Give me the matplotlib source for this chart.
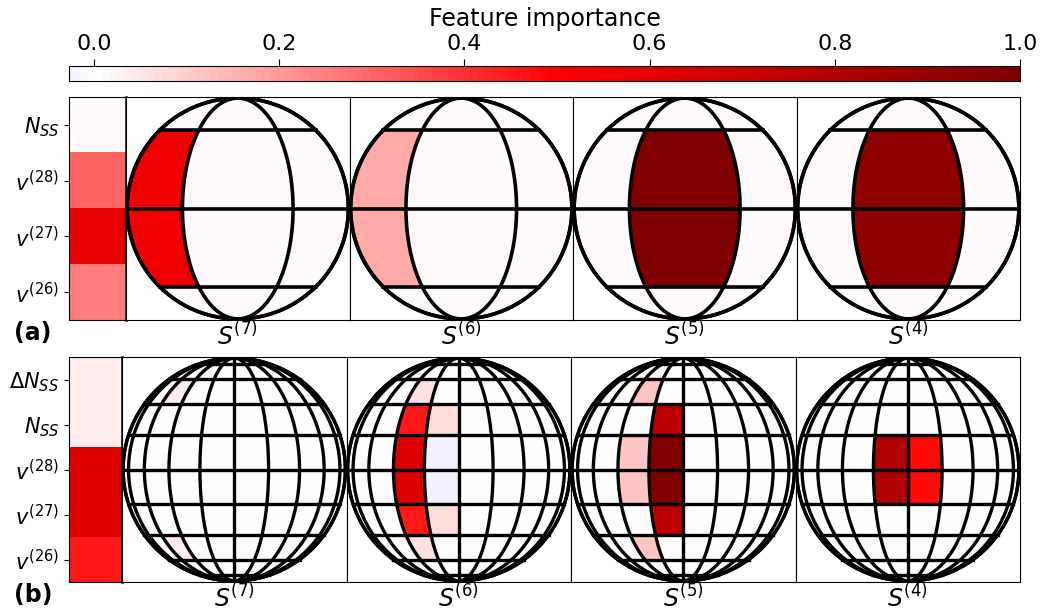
import matplotlib
matplotlib.use('Agg')
import matplotlib.pyplot as plt
import numpy as np
from matplotlib.colors import ListedColormap, Normalize
from matplotlib.cm import ScalarMappable

# colour scale: upper part of seismic, a little below zero
vmin, vmax = -0.027, 1.0
seis = plt.get_cmap('seismic')
lo = 0.5 + 0.5 * vmin
cmap = ListedColormap(seis(np.linspace(lo, 1, 256)))
norm = Normalize(vmin, vmax)

sphere_names = ['$S^{(7)}$', '$S^{(6)}$', '$S^{(5)}$', '$S^{(4)}$']

# ---- panel (a): 4 lat bands x 3 visible lon bands
labels_a = ['$N_{SS}$', '$v^{(28)}$', '$v^{(27)}$', '$v^{(26)}$']
strip_a = [0.015, 0.30, 0.59, 0.25]
lat_a = [90, 45, 0, -45, -90]
lon_a = [-90, -30, 30, 90]
s7_a = [[.01, .01, .01],
        [.56, .01, .01],
        [.56, .01, .01],
        [.01, .01, .01]]
s6_a = [[.01, .01, .01],
        [.17, .01, .01],
        [.17, .01, .01],
        [.01, .01, .01]]
s5_a = [[.01, .01, .01],
        [.01, 1.0, .01],
        [.01, 1.0, .01],
        [.01, .01, .01]]
s4_a = [[.01, .01, .01],
        [.01, .94, .01],
        [.01, .94, .01],
        [.01, .01, .01]]

# ---- panel (b): 10 lat bands x 10 visible lon bands (18 deg)
labels_b = ['$\\Delta N_{SS}$', '$N_{SS}$', '$v^{(28)}$', '$v^{(27)}$', '$v^{(26)}$']
strip_b = [0.04, 0.04, 0.62, 0.62, 0.45]
lat_b = [90, 72, 54, 36, 18, 0, -18, -36, -54, -72, -90]
lon_b = [-90, -72, -54, -36, -18, 0, 18, 36, 54, 72, 90]
z = 0.003
s7_b = [[z, z, z, z, z, z, z, z, z, z],
        [z, z, z, z, z, z, z, z, z, z],
        [z, z, .04, z, z, z, z, z, z, z],
        [z, z, z, z, z, z, z, z, z, z],
        [z, z, z, z, z, z, z, z, z, z],
        [z, z, z, z, z, z, z, z, z, z],
        [z, z, z, z, z, z, z, z, z, z],
        [z, z, .04, z, z, z, z, z, z, z],
        [z, z, z, z, z, z, z, z, z, z],
        [z, z, z, z, z, z, z, z, z, z]]
s6_b = [[z, z, z, z, z, z, z, z, z, z],
        [z, z, z, z, z, z, z, z, z, z],
        [z, z, z, .065, z, z, z, z, z, z],
        [z, z, z, .45, .07, z, z, z, z, z],
        [z, z, z, .63, -.03, z, z, z, z, z],
        [z, z, z, .63, -.03, z, z, z, z, z],
        [z, z, z, .45, .07, z, z, z, z, z],
        [z, z, z, .065, z, z, z, z, z, z],
        [z, z, z, z, z, z, z, z, z, z],
        [z, z, z, z, z, z, z, z, z, z]]
s5_b = [[z, z, z, z, z, z, z, z, z, z],
        [z, z, z, z, z, z, z, z, z, z],
        [z, z, z, .115, z, z, z, z, z, z],
        [z, z, z, z, .77, z, z, z, z, z],
        [z, z, z, .115, 1.0, z, z, z, z, z],
        [z, z, z, .115, 1.0, z, z, z, z, z],
        [z, z, z, z, .77, z, z, z, z, z],
        [z, z, z, .115, z, z, z, z, z, z],
        [z, z, z, z, z, z, z, z, z, z],
        [z, z, z, z, z, z, z, z, z, z]]
s4_b = [[z, z, z, z, z, z, z, z, z, z],
        [z, z, z, z, z, z, z, z, z, z],
        [z, z, z, z, z, z, z, z, z, z],
        [z, z, z, z, z, z, z, z, z, z],
        [z, z, z, z, .81, .48, z, z, z, z],
        [z, z, z, z, .81, .48, z, z, z, z],
        [z, z, z, z, z, z, z, z, z, z],
        [z, z, z, z, z, z, z, z, z, z],
        [z, z, z, z, z, z, z, z, z, z],
        [z, z, z, z, z, z, z, z, z, z]]


def proj(lat, lon):
    lat = np.radians(lat)
    lon = np.radians(lon)
    return np.cos(lat) * np.sin(lon), np.sin(lat)


def draw_sphere(ax, vals, lats, lons, lw):
    n = 40
    for i in range(len(lats) - 1):
        for j in range(len(lons) - 1):
            la1, la2 = lats[i], lats[i + 1]
            lo1, lo2 = lons[j], lons[j + 1]
            la = np.concatenate([np.full(n, la1), np.linspace(la1, la2, n),
                                 np.full(n, la2), np.linspace(la2, la1, n)])
            lo_ = np.concatenate([np.linspace(lo1, lo2, n), np.full(n, lo2),
                                  np.linspace(lo2, lo1, n), np.full(n, lo1)])
            x, y = proj(la, lo_)
            ax.fill(x, y, color=cmap(norm(vals[i][j])), lw=0)
    t = np.linspace(-90, 90, 200)
    for lo_ in lons:
        x, y = proj(t, np.full_like(t, lo_))
        ax.plot(x, y, color='k', lw=lw)
    for la in lats[1:-1]:
        x, y = proj(np.full_like(t, la), t)
        ax.plot(x, y, color='k', lw=lw)
    a = np.linspace(0, 2 * np.pi, 400)
    ax.plot(np.cos(a), np.sin(a), color='k', lw=lw)
    ax.set_xlim(-1.01, 1.01)
    ax.set_ylim(-1.01, 1.01)
    ax.set_xticks([])
    ax.set_yticks([])


W, H = 1042, 615
fig = plt.figure(figsize=(W / 100, H / 100), dpi=100)


def box(x0, y0, x1, y1):
    return [x0 / W, 1 - y1 / H, (x1 - x0) / W, (y1 - y0) / H]


# colorbar
cax = fig.add_axes(box(69, 66, 1020, 81))
cb = fig.colorbar(ScalarMappable(norm=norm, cmap=cmap), cax=cax,
                  orientation='horizontal', ticklocation='top')
cb.set_ticks([0, 0.2, 0.4, 0.6, 0.8, 1.0])
cb.ax.tick_params(labelsize=16, length=5)
cb.set_label('Feature importance', fontsize=17, labelpad=6)


def draw_panel(y0, y1, xs, strip, labels, spheres, lats, lons, tag, lw):
    sax = fig.add_axes(box(69, y0, xs[0], y1))
    sax.imshow(np.array(strip)[:, None], cmap=cmap, norm=norm, aspect='auto')
    sax.set_xticks([])
    sax.set_yticks(range(len(labels)))
    sax.set_yticklabels(labels, fontsize=15)
    sax.spines['right'].set_linewidth(1.8)
    for k in range(4):
        ax = fig.add_axes(box(xs[k], y0, xs[k + 1], y1))
        draw_sphere(ax, spheres[k], lats, lons, lw)
        ax.set_xlabel(sphere_names[k], fontsize=17, labelpad=1)
    fig.text(33 / W, 1 - (y1 + 13) / H, tag, ha='center', va='center',
             fontsize=17, fontweight='bold')


xs_a = [126, 349.5, 573, 796.5, 1020]
draw_panel(97, 320, xs_a, strip_a, labels_a, [s7_a, s6_a, s5_a, s4_a],
           lat_a, lon_a, '(a)', 2.6)
xs_b = [122, 346.5, 571, 795.5, 1020]
draw_panel(357, 582, xs_b, strip_b, labels_b, [s7_b, s6_b, s5_b, s4_b],
           lat_b, lon_b, '(b)', 2.4)

fig.savefig('out.png', dpi=100)
